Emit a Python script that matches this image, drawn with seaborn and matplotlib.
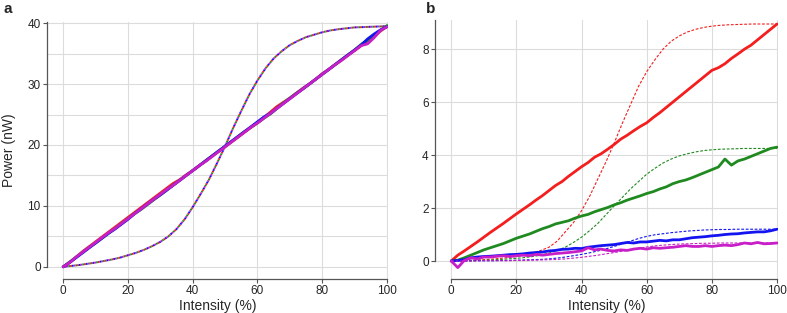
from matplotlib import pyplot as plt
import numpy as np
import pandas as pd
import seaborn as sns

# x positions: raw traces sampled every 2 %, fitted curves every 2.5 %
intensity_raw = np.arange(0, 101, 2)
intensity_fit = np.arange(0, 100.1, 2.5)

colors = {'red': '#f41e1e', 'green': '#1f8a1f', 'blue': '#1414f0', 'magenta': '#c81ec8'}

# panel a - measured power (nW)
a_red = [0.0, 0.7, 1.6, 2.5, 3.3, 4.1, 4.9, 5.7, 6.5, 7.3, 8.1, 8.9, 9.7, 10.5, 11.3, 12.1, 12.9,
         13.7, 14.3, 15.1, 15.8, 16.6, 17.4, 18.2, 19.0, 19.7, 20.5, 21.3, 22.1, 22.9, 23.7, 24.5,
         25.4, 26.3, 27.0, 27.7, 28.5, 29.3, 30.0, 30.8, 31.7, 32.4, 33.2, 34.0, 34.8, 35.5, 36.3,
         37.1, 37.9, 38.7, 39.5]
a_green = [0.0, 0.8, 1.6, 2.4, 3.2, 3.9, 4.7, 5.5, 6.3, 7.1, 7.9, 8.7, 9.4, 10.2, 11.0, 11.8, 12.6,
           13.4, 14.2, 15.0, 15.8, 16.6, 17.4, 18.2, 19.0, 19.8, 20.6, 21.4, 22.2, 22.9, 23.6, 24.4,
           25.1, 26.0, 26.9, 27.7, 28.5, 29.2, 30.0, 30.8, 31.6, 32.4, 33.2, 34.0, 34.8, 35.6, 36.5,
           37.2, 37.9, 38.8, 39.6]
a_blue = [0.0, 0.7, 1.5, 2.3, 3.1, 3.9, 4.7, 5.5, 6.2, 7.0, 7.8, 8.7, 9.5, 10.3, 11.1, 11.8, 12.6,
          13.4, 14.2, 15.0, 15.8, 16.6, 17.4, 18.2, 19.0, 19.8, 20.6, 21.4, 22.2, 23.0, 23.8, 24.6,
          25.2, 26.0, 26.8, 27.6, 28.4, 29.2, 30.0, 30.8, 31.6, 32.4, 33.2, 34.0, 34.8, 35.6, 36.4,
          37.4, 38.2, 38.9, 39.4]
a_magenta = [0.0, 0.7, 1.6, 2.4, 3.2, 4.0, 4.8, 5.6, 6.3, 7.1, 7.9, 8.7, 9.5, 10.3, 11.1, 11.9, 12.7,
             13.4, 14.2, 15.0, 15.8, 16.6, 17.3, 18.1, 18.9, 19.7, 20.5, 21.3, 22.1, 22.9, 23.6, 24.4,
             25.2, 26.0, 26.8, 27.6, 28.4, 29.2, 30.0, 30.8, 31.6, 32.4, 33.2, 33.9, 34.7, 35.5, 36.3,
             36.6, 37.6, 38.8, 39.4]
# panel a - fitted curve (same for all four colours)
a_fit = [0.0, 0.15, 0.3, 0.5, 0.7, 0.95, 1.2, 1.5, 1.9, 2.3, 2.8, 3.4, 4.1, 5.0, 6.2, 7.8, 9.8,
         12.0, 14.3, 17.0, 19.8, 22.8, 25.6, 28.3, 30.6, 32.6, 34.2, 35.4, 36.4, 37.1, 37.7, 38.1,
         38.5, 38.8, 39.0, 39.15, 39.3, 39.35, 39.4, 39.45, 39.5]

# panel b - measured power
b_red = [0.0, 0.22, 0.38, 0.55, 0.72, 0.9, 1.08, 1.25, 1.42, 1.6, 1.78, 1.95, 2.12, 2.3, 2.47, 2.66,
         2.85, 3.0, 3.2, 3.38, 3.56, 3.72, 3.92, 4.05, 4.22, 4.4, 4.6, 4.75, 4.92, 5.08, 5.22, 5.42,
         5.6, 5.8, 6.0, 6.2, 6.4, 6.6, 6.8, 7.0, 7.2, 7.3, 7.45, 7.65, 7.82, 8.0, 8.15, 8.35, 8.55,
         8.75, 8.95]
b_green = [0.0, 0.03, 0.12, 0.22, 0.32, 0.42, 0.5, 0.58, 0.66, 0.76, 0.86, 0.94, 1.02, 1.12, 1.22,
           1.3, 1.4, 1.46, 1.52, 1.62, 1.7, 1.76, 1.86, 1.94, 2.02, 2.12, 2.2, 2.3, 2.38, 2.46, 2.55,
           2.62, 2.72, 2.8, 2.92, 3.0, 3.06, 3.15, 3.25, 3.35, 3.45, 3.55, 3.85, 3.62, 3.78, 3.85,
           3.95, 4.05, 4.15, 4.25, 4.3]
b_blue = [0.0, 0.02, 0.05, 0.12, 0.15, 0.17, 0.18, 0.2, 0.22, 0.24, 0.25, 0.27, 0.3, 0.32, 0.34,
          0.38, 0.4, 0.44, 0.45, 0.48, 0.47, 0.52, 0.55, 0.58, 0.6, 0.62, 0.66, 0.7, 0.68, 0.72, 0.72,
          0.75, 0.78, 0.76, 0.8, 0.8, 0.84, 0.88, 0.9, 0.92, 0.95, 0.97, 1.0, 1.02, 1.03, 1.06, 1.08,
          1.1, 1.1, 1.14, 1.2]
b_magenta = [0.0, -0.25, 0.02, 0.12, 0.08, 0.15, 0.15, 0.18, 0.2, 0.17, 0.2, 0.22, 0.2, 0.25, 0.22,
             0.25, 0.28, 0.3, 0.32, 0.35, 0.38, 0.5, 0.42, 0.45, 0.4, 0.38, 0.42, 0.4, 0.45, 0.48,
             0.45, 0.5, 0.48, 0.5, 0.52, 0.55, 0.58, 0.55, 0.55, 0.58, 0.55, 0.58, 0.6, 0.58, 0.62,
             0.68, 0.65, 0.7, 0.65, 0.66, 0.68]
# panel b - fitted curves
b_red_fit = [0.0, 0.0, 0.02, 0.03, 0.05, 0.07, 0.1, 0.13, 0.17, 0.22, 0.3, 0.4, 0.52, 0.75, 1.1, 1.45,
             1.9, 2.45, 3.1, 3.75, 4.45, 5.2, 5.9, 6.6, 7.15, 7.6, 8.0, 8.3, 8.5, 8.65, 8.75, 8.82,
             8.87, 8.9, 8.92, 8.93, 8.94, 8.95, 8.95, 8.95, 8.95]
b_green_fit = [0.0, 0.0, 0.01, 0.02, 0.03, 0.04, 0.06, 0.08, 0.1, 0.13, 0.17, 0.22, 0.3, 0.4, 0.52,
               0.7, 0.9, 1.15, 1.42, 1.75, 2.08, 2.4, 2.72, 3.0, 3.28, 3.5, 3.7, 3.85, 3.97, 4.05,
               4.12, 4.17, 4.2, 4.22, 4.23, 4.24, 4.25, 4.25, 4.25, 4.25, 4.25]
b_blue_fit = [0.0, 0.0, 0.0, 0.01, 0.01, 0.01, 0.02, 0.02, 0.03, 0.04, 0.05, 0.06, 0.08, 0.11, 0.15,
              0.2, 0.25, 0.31, 0.38, 0.46, 0.55, 0.65, 0.75, 0.85, 0.93, 0.99, 1.03, 1.07, 1.1, 1.13,
              1.15, 1.17, 1.18, 1.19, 1.19, 1.2, 1.2, 1.2, 1.2, 1.2, 1.2]
b_magenta_fit = [0.0, 0.0, 0.0, 0.0, 0.01, 0.01, 0.01, 0.01, 0.02, 0.02, 0.03, 0.04, 0.05, 0.06, 0.08,
                 0.11, 0.14, 0.18, 0.22, 0.27, 0.32, 0.37, 0.43, 0.48, 0.53, 0.57, 0.6, 0.62, 0.64,
                 0.65, 0.66, 0.67, 0.67, 0.68, 0.68, 0.68, 0.68, 0.68, 0.68, 0.68, 0.68]

sns.set_style('whitegrid', {'grid.color': '#dcdcdc', 'axes.edgecolor': '#555555',
                            'xtick.bottom': True, 'ytick.left': True})
plt.rcParams['font.family'] = ['Liberation Sans', 'DejaVu Sans']
plt.rcParams['axes.linewidth'] = 0.9
plt.rcParams['grid.linewidth'] = 0.8

fig = plt.figure(figsize=(7.87, 3.13), dpi=100)
ax1 = fig.add_axes([0.0597, 0.1086, 0.4333, 0.8214])
ax2 = fig.add_axes([0.5527, 0.1086, 0.4359, 0.8274])

raw_a = {'red': a_red, 'green': a_green, 'blue': a_blue, 'magenta': a_magenta}
raw_b = {'red': b_red, 'green': b_green, 'blue': b_blue, 'magenta': b_magenta}
fit_b = {'red': b_red_fit, 'green': b_green_fit, 'blue': b_blue_fit, 'magenta': b_magenta_fit}

# panel a: four overlapping fits drawn as interleaved dots
for i, name in enumerate(['red', 'green', 'magenta', 'blue']):
    sns.lineplot(x=intensity_fit, y=a_fit, ax=ax1, color=colors[name], lw=1.4,
                 linestyle=(i * 0.9, (0.9, 2.7)))
for name in ['red', 'green', 'blue', 'magenta']:
    sns.lineplot(x=intensity_raw, y=raw_a[name], ax=ax1, color=colors[name], lw=2.0)

# panel b
for name in ['red', 'green', 'blue', 'magenta']:
    sns.lineplot(x=intensity_fit, y=fit_b[name], ax=ax2, color=colors[name], lw=0.8,
                 linestyle=(0, (2.5, 1.5)))
    sns.lineplot(x=intensity_raw, y=raw_b[name], ax=ax2, color=colors[name], lw=2.0)

ax1.set_xlim(-5, 100.3)
ax1.set_ylim(-2, 40.2)
ax1.set_yticks([0, 10, 20, 30, 40])
ax1.set_yticks([5, 15, 25, 35], minor=True)
ax1.grid(which='minor', axis='y', color='#dcdcdc', lw=0.8)
ax1.tick_params(which='minor', length=0)
ax1.set_ylabel('Power (nW)', fontsize=10, labelpad=8)

ax2.set_xlim(-5, 100.3)
ax2.set_ylim(-0.68, 9.1)
ax2.set_yticks([0, 2, 4, 6, 8])

for ax in (ax1, ax2):
    ax.set_xticks([0, 20, 40, 60, 80, 100])
    ax.set_xlabel('Intensity (%)', fontsize=10, labelpad=1)
    ax.tick_params(labelsize=8.5, length=3, width=0.8, pad=1.5, color='#555555')
    sns.despine(ax=ax)
    ax.spines['bottom'].set_bounds(0, 100)
    ax.spines['left'].set_bounds(0, ax.get_ylim()[1])

fig.text(0.004, 0.995, 'a', fontsize=11, fontweight='bold', va='top')
fig.text(0.541, 0.995, 'b', fontsize=11, fontweight='bold', va='top')

fig.savefig('out.png', dpi=100)
